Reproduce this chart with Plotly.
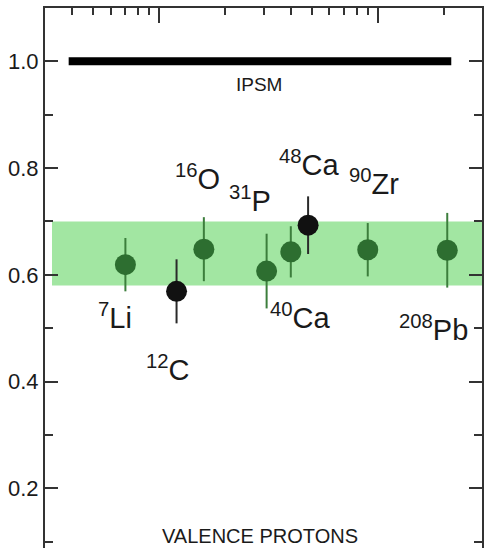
import numpy as np
import plotly.graph_objects as go

# ---- data ----
nuclei = ["7Li", "12C", "16O", "31P", "40Ca", "48Ca", "90Zr", "208Pb"]
mass_A = [7, 12, 16, 31, 40, 48, 90, 208]
sf_ratio = [0.619, 0.569, 0.648, 0.607, 0.643, 0.693, 0.647, 0.646]
sf_err = [0.050, 0.060, 0.060, 0.070, 0.048, 0.054, 0.050, 0.070]
is_black = [False, True, False, False, False, True, False, False]

band_low, band_high = 0.58, 0.70
band_x = [3.23, 300]
ipsm_x = [3.85, 217]
ipsm_y = [1.0, 1.0]

y_ticks = [0.2, 0.4, 0.6, 0.8, 1.0]
y_ticklabels = ["0.2", "0.4", "0.6", "0.8", "1.0"]

# label texts and positions (x in A, y in ratio)
label_text = ["<sup>7</sup>Li", "<sup>12</sup>C", "<sup>16</sup>O", "<sup>31</sup>P",
              "<sup>48</sup>Ca", "<sup>90</sup>Zr", "<sup>40</sup>Ca", "<sup>208</sup>Pb"]
label_x = [6.24, 11.0, 14.97, 26.0, 48.5, 96.6, 44.5, 180]
label_y = [0.523, 0.426, 0.784, 0.742, 0.809, 0.774, 0.522, 0.501]

GREEN = "#2d6e30"
GREEN_BAR = "#3c7e3c"
BAND = "#a2e6a2"
INK = "#1a1a1a"

fig = go.Figure()

fig.add_shape(type="rect", xref="x", yref="y",
              x0=band_x[0], x1=band_x[1], y0=band_low, y1=band_high,
              fillcolor=BAND, line=dict(width=0), layer="below")

# IPSM line
fig.add_trace(go.Scatter(x=ipsm_x, y=ipsm_y, mode="lines",
                         line=dict(color="black", width=8), showlegend=False,
                         hoverinfo="skip"))

for black in (False, True):
    xs = [a for a, b in zip(mass_A, is_black) if b == black]
    ys = [s for s, b in zip(sf_ratio, is_black) if b == black]
    es = [e for e, b in zip(sf_err, is_black) if b == black]
    col = "#111111" if black else GREEN
    barcol = "#2a2a2a" if black else GREEN_BAR
    fig.add_trace(go.Scatter(
        x=xs, y=ys, mode="markers",
        marker=dict(color=col, size=21, line=dict(width=0)),
        error_y=dict(type="data", array=es, visible=True, thickness=2,
                     width=0, color=barcol),
        showlegend=False))

for t, x, y in zip(label_text, label_x, label_y):
    fig.add_annotation(x=np.log10(x), y=y, xref="x", yref="y", text=t,
                       showarrow=False, xanchor="center", yanchor="middle",
                       font=dict(family="Liberation Sans", size=29, color=INK))

fig.add_annotation(x=np.log10(28.6), y=0.957, xref="x", yref="y", text="IPSM",
                   showarrow=False, font=dict(family="Liberation Sans", size=19, color=INK))
fig.add_annotation(x=np.log10(28.9), y=0.111, xref="x", yref="y",
                   text="VALENCE PROTONS", showarrow=False,
                   font=dict(family="Liberation Sans", size=20, color=INK))

fig.update_layout(
    width=485, height=548,
    margin=dict(l=45, r=3, t=8, b=0),
    paper_bgcolor="white", plot_bgcolor="white",
    showlegend=False,
    xaxis=dict(type="log", range=[np.log10(3), np.log10(300)], side="top",
               showline=True, linecolor="#333", linewidth=2, mirror=False,
               ticks="inside", ticklen=15, tickwidth=2, tickcolor="#333",
               tickmode="array", tickvals=[10, 100], showticklabels=False,
               showgrid=False, zeroline=False,
               minor=dict(ticks="inside", ticklen=7, tickwidth=2, tickcolor="#333",
                          tickmode="array",
                          tickvals=[4, 5, 6, 7, 8, 9, 20, 30, 40, 50, 60, 70, 80, 90, 200],
                          showgrid=False)),
    yaxis=dict(range=[0.088, 1.1], showline=True, linecolor="#333", linewidth=2,
               mirror="ticks", ticks="inside", ticklen=13, tickwidth=2, tickcolor="#333",
               tickmode="array", tickvals=y_ticks, ticktext=y_ticklabels,
               tickfont=dict(family="Liberation Sans", size=22, color=INK),
               showgrid=False, zeroline=False,
               minor=dict(ticks="inside", ticklen=8, tickwidth=2, tickcolor="#333",
                          dtick=0.1, tick0=0, showgrid=False)),
)

fig.write_html("out.html")
